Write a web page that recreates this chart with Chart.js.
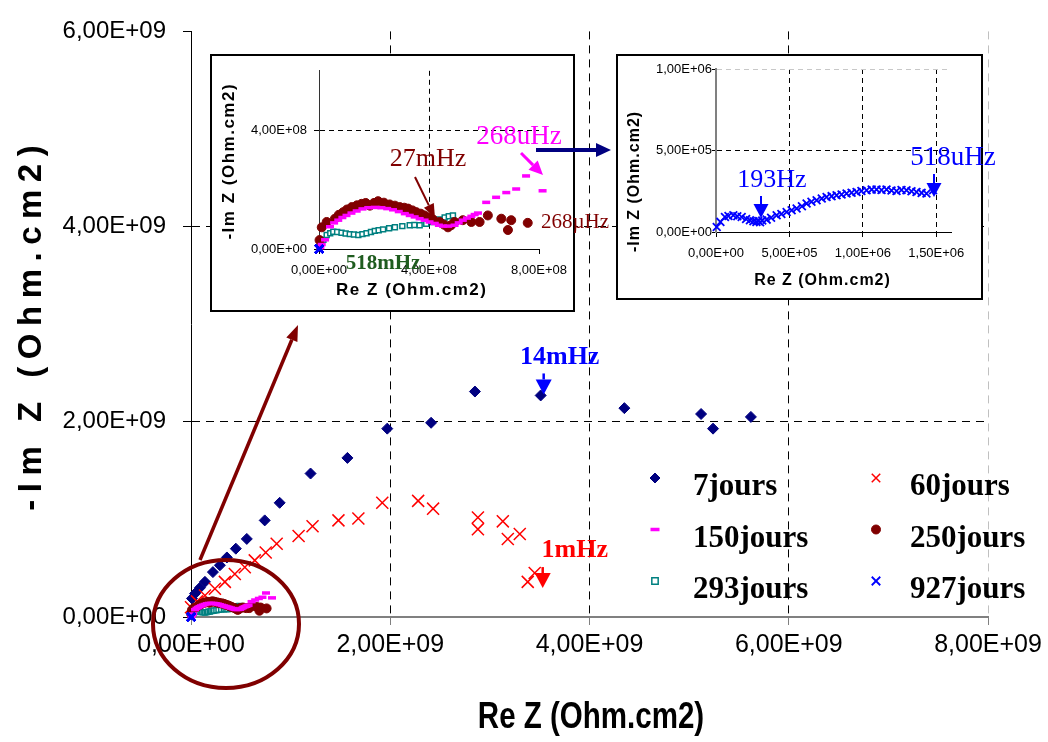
<!DOCTYPE html>
<html>
<head>
<meta charset="utf-8">
<script src="https://cdn.jsdelivr.net/npm/chart.js@4.4.0/dist/chart.umd.min.js"></script>
<style>
  body { margin: 0; background: #fff; }
  #wrap { position: relative; width: 1048px; height: 742px; overflow: hidden; }
  #main { position: absolute; left: 0; top: 0; }
  .box { position: absolute; border: 2px solid #000; background: #fff; box-sizing: border-box; }
  .box canvas { display: block; position: absolute; left: 0; top: 0; }
  #box1 { left: 210px; top: 54px; width: 365px; height: 258px; }
  #box2 { left: 616px; top: 54px; width: 367px; height: 246px; }
</style>
</head>
<body>
<div id="wrap">
  <canvas id="main" width="1048" height="742"></canvas>
  <div class="box" id="box1"><canvas id="ins1" width="400" height="254"></canvas></div>
  <div class="box" id="box2"><canvas id="ins2" width="420" height="242"></canvas></div>
</div>
<script>
// ---- data ----
// 7 jours and 60 jours, unit 1e9 Ohm.cm2
const re7  = [0.01, 0.04, 0.09, 0.14, 0.22, 0.29, 0.36, 0.45, 0.56, 0.74, 0.89, 1.20, 1.57, 1.97, 2.41, 2.85, 3.51, 4.35, 5.12, 5.24, 5.62];
const im7  = [0.19, 0.24, 0.30, 0.36, 0.46, 0.53, 0.61, 0.70, 0.80, 0.99, 1.17, 1.47, 1.63, 1.93, 1.99, 2.31, 2.27, 2.14, 2.08, 1.93, 2.05];
const re60 = [0.00, 0.06, 0.14, 0.24, 0.34, 0.44, 0.54, 0.64, 0.75, 0.86, 1.08, 1.22, 1.48, 1.68, 1.92, 2.28, 2.43, 2.88, 2.88, 3.13, 3.18, 3.30, 3.38, 3.45];
const im60 = [0.10, 0.16, 0.22, 0.29, 0.36, 0.44, 0.51, 0.58, 0.66, 0.75, 0.83, 0.93, 0.99, 1.01, 1.17, 1.19, 1.11, 1.02, 0.90, 0.98, 0.80, 0.85, 0.36, 0.45];
// 150, 250 and 293 jours, unit 1e8 Ohm.cm2
const re150 = [0.05, 0.10, 0.22, 0.40, 0.55, 0.70, 0.85, 1.00, 1.18, 1.37, 1.58, 1.79, 2.03, 2.27, 2.48, 2.69, 2.90, 3.12, 3.30, 3.48, 3.66, 3.84, 4.02, 4.21, 4.36, 4.51, 4.70, 4.93, 5.08, 5.23, 5.38, 5.54, 5.66, 5.78, 6.08, 6.44, 6.81, 7.17, 7.53, 8.13];
const im150 = [0.05, 0.15, 0.31, 0.75, 0.88, 0.97, 1.06, 1.13, 1.21, 1.28, 1.35, 1.39, 1.40, 1.39, 1.36, 1.32, 1.26, 1.19, 1.13, 1.08, 1.02, 0.97, 0.91, 0.86, 0.80, 0.77, 0.77, 0.80, 0.88, 0.97, 1.04, 1.10, 1.16, 1.21, 1.57, 1.74, 1.90, 2.02, 2.46, 1.96];
const re250 = [0.02, 0.10, 0.28, 0.58, 0.72, 0.88, 1.02, 1.19, 1.38, 1.55, 1.70, 1.85, 2.00, 2.15, 2.36, 2.57, 2.76, 2.94, 3.10, 3.24, 3.40, 3.54, 3.70, 3.84, 4.00, 4.15, 4.39, 4.55, 4.69, 4.80, 4.93, 5.23, 5.54, 5.84, 6.14, 6.63, 6.99, 6.87, 7.59];
const im250 = [0.30, 0.73, 0.91, 1.02, 1.15, 1.24, 1.33, 1.41, 1.47, 1.52, 1.55, 1.46, 1.55, 1.61, 1.56, 1.50, 1.46, 1.41, 1.39, 1.36, 1.30, 1.24, 1.19, 1.13, 1.06, 0.99, 0.91, 0.82, 0.73, 0.80, 0.91, 0.97, 0.91, 0.91, 1.13, 1.02, 0.97, 0.64, 0.88];
const re293 = [0.01, 0.04, 0.16, 0.28, 0.41, 0.52, 0.66, 0.82, 0.97, 1.12, 1.27, 1.43, 1.58, 1.73, 1.89, 2.03, 2.17, 2.33, 2.55, 2.76, 3.03, 3.30, 3.47, 3.66, 3.90, 4.15, 4.36, 4.57, 4.72, 4.87];
const im293 = [0.05, 0.20, 0.31, 0.47, 0.53, 0.58, 0.57, 0.55, 0.52, 0.50, 0.49, 0.47, 0.50, 0.53, 0.57, 0.61, 0.63, 0.66, 0.70, 0.73, 0.77, 0.80, 0.81, 0.80, 0.85, 0.91, 0.99, 1.06, 1.10, 1.13];
// 927 jours, unit 1e5 Ohm.cm2
const re927 = [0.05, 0.30, 0.61, 0.85, 1.18, 1.45, 1.75, 2.05, 2.31, 2.55, 2.75, 2.88, 3.00, 3.15, 3.45, 3.75, 4.13, 4.45, 4.81, 5.15, 5.49, 5.85, 6.17, 6.50, 6.85, 7.20, 7.53, 7.87, 8.21, 8.55, 8.89, 9.23, 9.57, 9.90, 10.25, 10.60, 10.93, 11.27, 11.61, 11.95, 12.29, 12.63, 12.97, 13.31, 13.65, 14.00, 14.33, 14.78];
const im927 = [0.31, 0.62, 0.92, 0.98, 1.03, 0.97, 0.92, 0.80, 0.72, 0.66, 0.62, 0.68, 0.60, 0.70, 0.76, 0.88, 1.03, 1.10, 1.23, 1.33, 1.44, 1.58, 1.75, 1.85, 1.95, 2.05, 2.15, 2.20, 2.26, 2.30, 2.36, 2.41, 2.46, 2.52, 2.56, 2.60, 2.61, 2.58, 2.61, 2.55, 2.52, 2.58, 2.56, 2.50, 2.46, 2.40, 2.36, 2.56];

const seriesNames = ['7jours', '60jours', '150jours', '250jours', '293jours', '927jours'];

const mainXTicks = [0, 2e9, 4e9, 6e9, 8e9];
const mainYTicks = [0, 2e9, 4e9, 6e9];
const ins1XTicks = [0, 4e8, 8e8];
const ins1YTicks = [0, 4e8];
const ins2XTicks = [0, 5e5, 1e6, 1.5e6];
const ins2YTicks = [0, 5e5, 1e6];

// ---- look ----
const SANS = '"Liberation Sans", Arial, sans-serif';
const SERIF = '"Liberation Serif", "Times New Roman", serif';

const marks = [
  { pointStyle: 'rectRot',  radius: 5.5, fill: '#000080', line: '#000080', width: 1,   legendRadius: 5 },
  { pointStyle: 'crossRot', radius: 8.5, fill: '#FF0000', line: '#FF0000', width: 1.5, legendRadius: 6 },
  { pointStyle: 'line',     radius: 4,   fill: '#FF00FF', line: '#FF00FF', width: 3.5, legendRadius: 4.5 },
  { pointStyle: 'circle',   radius: 4.5, fill: '#800000', line: '#800000', width: 1,   legendRadius: 4.5 },
  { pointStyle: 'rect',     radius: 3.5, fill: '#FFFFFF', line: '#008080', width: 1.5, legendRadius: 4.5 },
  { pointStyle: 'crossRot', radius: 5.5, fill: '#0000FF', line: '#0000FF', width: 1.8, legendRadius: 6 },
];
const drawOrder = [5, 4, 1, 2, 3, 0];

let pts = function (re, im, k) {
  return re.map((r, i) => ({ x: r * k, y: im[i] * k }));
};
let allSeries = [
  pts(re7, im7, 1e9), pts(re60, im60, 1e9),
  pts(re150, im150, 1e8), pts(re250, im250, 1e8), pts(re293, im293, 1e8),
  pts(re927, im927, 1e5)
];

let sci = function (v) {
  return Number(v).toExponential(2).replace('.', ',')
    .replace(/e([+-])(\d+)$/, (m, s, d) => 'E' + s + (d.length < 2 ? '0' + d : d));
};

let makeDataset = function (i) {
  const m = marks[i];
  return {
    label: seriesNames[i],
    data: allSeries[i],
    showLine: false,
    clip: false,
    order: drawOrder[i],
    pointStyle: m.pointStyle,
    pointRadius: m.radius,
    pointBackgroundColor: m.fill,
    pointBorderColor: m.line,
    pointBorderWidth: m.width,
    backgroundColor: m.fill,
    borderColor: m.line
  };
};

let fixTicks = function (arr) {
  return function (scale) { scale.ticks = arr.map(v => ({ value: v })); };
};

let spacedText = function (ctx, text, x, y, font, spacing, color, rot, squeeze) {
  ctx.save();
  ctx.translate(x, y);
  if (rot) ctx.rotate(rot);
  if (squeeze) ctx.scale(squeeze, 1);
  ctx.font = font;
  ctx.letterSpacing = spacing + 'px';
  ctx.textAlign = 'center';
  ctx.textBaseline = 'middle';
  ctx.fillStyle = color;
  ctx.fillText(text, spacing / 2, 0);
  ctx.restore();
};

let label = function (ctx, text, x, y, font, color, align) {
  ctx.save();
  ctx.font = font;
  ctx.textAlign = align || 'center';
  ctx.textBaseline = 'middle';
  ctx.fillStyle = color;
  ctx.fillText(text, x, y);
  ctx.restore();
};

let arrow = function (ctx, x1, y1, x2, y2, color, width, headLen, headW) {
  const a = Math.atan2(y2 - y1, x2 - x1);
  const bx = x2 - headLen * Math.cos(a), by = y2 - headLen * Math.sin(a);
  ctx.save();
  ctx.setLineDash([]);
  ctx.strokeStyle = color;
  ctx.fillStyle = color;
  ctx.lineWidth = width;
  ctx.beginPath(); ctx.moveTo(x1, y1); ctx.lineTo(bx, by); ctx.stroke();
  ctx.beginPath();
  ctx.moveTo(x2, y2);
  ctx.lineTo(bx + headW / 2 * Math.sin(a), by - headW / 2 * Math.cos(a));
  ctx.lineTo(bx - headW / 2 * Math.sin(a), by + headW / 2 * Math.cos(a));
  ctx.closePath(); ctx.fill();
  ctx.restore();
};

let pageDecor = function (id, offX, offY, draw) {
  return {
    id: id,
    afterDraw(chart) {
      const ctx = chart.ctx;
      ctx.save();
      ctx.translate(-offX, -offY);
      draw(chart, ctx);
      ctx.restore();
    }
  };
};

let baseOptions = function () {
  return {
    responsive: false,
    devicePixelRatio: 1,
    animation: false,
    events: [],
    plugins: { legend: { display: false }, tooltip: { enabled: false } }
  };
};

// ---- main chart ----
const mainDecor = pageDecor('mainDecor', 0, 0, function (chart, ctx) {
  const xs = chart.scales.x, ys = chart.scales.y;
  const ox = xs.getPixelForValue(0), oy = ys.getPixelForValue(0);

  // ellipse round the origin and arrow to the inset
  ctx.save();
  ctx.strokeStyle = '#800000';
  ctx.lineWidth = 4;
  ctx.beginPath();
  ctx.ellipse(ox + 35, oy + 7, 73, 64, 0, 0, Math.PI * 2);
  ctx.stroke();
  ctx.restore();
  arrow(ctx, ox + 9, oy - 57, ox + 107, oy - 292, '#800000', 3.5, 16, 12);

  // frequency marks
  let p = { x: xs.getPixelForValue(re7[16] * 1e9), y: ys.getPixelForValue(im7[16] * 1e9) };
  label(ctx, '14mHz', p.x + 19, p.y - 38, 'bold 26px ' + SERIF, '#0000FF');
  arrow(ctx, p.x + 3, p.y - 22, p.x + 3, p.y - 1, '#0000FF', 2.5, 15, 16);
  let q = { x: xs.getPixelForValue(re60[23] * 1e9), y: ys.getPixelForValue(im60[23] * 1e9) };
  label(ctx, '1mHz', q.x + 40, q.y - 23, 'bold 26px ' + SERIF, '#FF0000');
  arrow(ctx, q.x + 8, q.y - 6, q.x + 8, q.y + 15, '#FF0000', 2.5, 15, 16);

  // legend, two columns
  seriesNames.forEach((name, i) => {
    const col = i % 2, row = Math.floor(i / 2);
    const tx = 693 + col * 217, ty = 487 + row * 51.5;
    const m = marks[i];
    ctx.save();
    ctx.fillStyle = m.fill;
    ctx.strokeStyle = m.line;
    ctx.lineWidth = m.width;
    Chart.helpers.drawPoint(ctx, { pointStyle: m.pointStyle, radius: m.legendRadius, borderWidth: m.width, rotation: 0 },
      tx - 38 + col * 4, ty - 9);
    ctx.restore();
    label(ctx, name, tx, ty, 'bold 31px ' + SERIF, '#000', 'left');
  });

  // axis titles
  spacedText(ctx, '-Im Z (Ohm.cm2)', 32, 328, 'bold 33px ' + SANS, 7.5, '#000', -Math.PI / 2);
  spacedText(ctx, 'Re Z (Ohm.cm2)', 591, 718, 'bold 36px ' + SANS, 0, '#000', 0, 0.82);
});

new Chart(document.getElementById('main').getContext('2d'), {
  type: 'scatter',
  data: { datasets: seriesNames.map((n, i) => makeDataset(i)) },
  options: Object.assign(baseOptions(), {
    layout: { padding: { top: 24, right: 60, left: 0, bottom: 0 } },
    scales: {
      x: {
        type: 'linear', min: 0, max: 8e9,
        afterBuildTicks: fixTicks(mainXTicks),
        afterFit: s => { s.height = 125; },
        ticks: { callback: sci, font: { family: SANS, size: 25 }, color: '#000', padding: 5, maxRotation: 0, autoSkip: false },
        grid: {
          color: c => c.tick.value === 8e9 ? '#c0c0c0' : (c.tick.value === 0 ? 'rgba(0,0,0,0)' : '#000'),
          tickColor: '#808080', tickLength: 8, lineWidth: 1
        },
        border: { color: '#808080', width: 2, dash: [8, 6] }
      },
      y: {
        type: 'linear', min: 0, max: 6e9,
        afterBuildTicks: fixTicks(mainYTicks),
        afterFit: s => { s.width = 191; },
        ticks: { callback: sci, font: { family: SANS, size: 24 }, color: '#000', padding: 17 },
        grid: {
          color: c => (c.tick.value === 0 || c.tick.value === 6e9) ? 'rgba(0,0,0,0)' : '#000',
          tickColor: '#000', tickLength: 8, lineWidth: 1
        },
        border: { color: '#000', width: 1, dash: [8, 6] }
      }
    }
  }),
  plugins: [mainDecor]
});

// ---- inset 1 : 150, 250, 293 and 927 jours ----
const ins1Decor = pageDecor('ins1Decor', 212, 56, function (chart, ctx) {
  label(ctx, '27mHz', 428, 159, '26px ' + SERIF, '#800000');
  arrow(ctx, 415, 177, 435, 218, '#800000', 2, 14, 11);
  label(ctx, '268uHz', 519, 137, '27px ' + SERIF, '#FF00FF');
  arrow(ctx, 521, 153, 543, 175, '#FF00FF', 3, 14, 13);
  label(ctx, '518mHz', 383, 264, 'bold 21px ' + SERIF, '#1F5C1F');
  label(ctx, '268\u00b5Hz', 541, 222, '21px ' + SERIF, '#800000', 'left');
  arrow(ctx, 536, 150, 611, 150, '#000080', 4, 15, 14);
  spacedText(ctx, 'Re Z (Ohm.cm2)', 411, 290, 'bold 17px ' + SANS, 1.5, '#000');
  spacedText(ctx, '-Im Z (Ohm.cm2)', 229, 162, 'bold 17px ' + SANS, 1.5, '#000', -Math.PI / 2);
});

new Chart(document.getElementById('ins1').getContext('2d'), {
  type: 'scatter',
  data: { datasets: [2, 3, 4, 5].map(i => makeDataset(i)) },
  options: Object.assign(baseOptions(), {
    layout: { padding: { top: 13, right: 73, left: 0, bottom: 0 } },
    scales: {
      x: {
        type: 'linear', min: 0, max: 8e8,
        afterBuildTicks: fixTicks(ins1XTicks),
        afterFit: s => { s.height = 61; },
        ticks: { callback: sci, font: { family: SANS, size: 13 }, color: '#000', padding: 9, maxRotation: 0, autoSkip: false },
        grid: { color: c => c.tick.value === 4e8 ? '#000' : 'rgba(0,0,0,0)', tickColor: '#000', tickLength: 5 },
        border: { color: '#000', width: 1, dash: [5, 4] }
      },
      y: {
        type: 'linear', min: 0, max: 6e8,
        afterBuildTicks: fixTicks(ins1YTicks),
        afterFit: s => { s.width = 107; },
        ticks: { callback: sci, font: { family: SANS, size: 13 }, color: '#000', padding: 7 },
        grid: { color: c => c.tick.value === 4e8 ? '#000' : 'rgba(0,0,0,0)', tickColor: '#000', tickLength: 5 },
        border: { color: '#333', width: 1, dash: [5, 4] }
      }
    }
  }),
  plugins: [ins1Decor]
});

// ---- inset 2 : 927 jours ----
const ins2Decor = pageDecor('ins2Decor', 618, 56, function (chart, ctx) {
  label(ctx, '193Hz', 772, 180, '26px ' + SERIF, '#0000FF');
  arrow(ctx, 761, 196, 761, 218, '#0000FF', 2, 14, 15);
  label(ctx, '518uHz', 953, 158, '27px ' + SERIF, '#0000FF');
  arrow(ctx, 934, 174, 934, 197, '#0000FF', 2, 14, 15);
  spacedText(ctx, 'Re Z (Ohm.cm2)', 822, 281, 'bold 16px ' + SANS, 1, '#000');
  spacedText(ctx, '-Im Z (Ohm.cm2)', 635, 182, 'bold 16px ' + SANS, 1, '#000', -Math.PI / 2);
});

new Chart(document.getElementById('ins2').getContext('2d'), {
  type: 'scatter',
  data: { datasets: [makeDataset(5)] },
  options: Object.assign(baseOptions(), {
    layout: { padding: { top: 13, right: 87, left: 0, bottom: 0 } },
    scales: {
      x: {
        type: 'linear', min: 0, max: 1.6e6,
        afterBuildTicks: fixTicks(ins2XTicks),
        afterFit: s => { s.height = 66; },
        ticks: { callback: sci, font: { family: SANS, size: 13 }, color: '#000', padding: 9, maxRotation: 0, autoSkip: false },
        grid: { color: c => c.tick.value === 0 ? 'rgba(0,0,0,0)' : '#000', tickColor: '#000', tickLength: 5 },
        border: { color: '#000', width: 1, dash: [5, 4] }
      },
      y: {
        type: 'linear', min: 0, max: 1e6,
        afterBuildTicks: fixTicks(ins2YTicks),
        afterFit: s => { s.width = 98; },
        ticks: { callback: sci, font: { family: SANS, size: 13 }, color: '#000', padding: 0 },
        grid: {
          color: c => c.tick.value === 5e5 ? '#000' : (c.tick.value === 1e6 ? '#c8c8c8' : 'rgba(0,0,0,0)'),
          tickColor: '#000', tickLength: 4
        },
        border: { color: '#808080', width: 2, dash: [5, 4] }
      }
    }
  }),
  plugins: [ins2Decor]
});
</script>
</body>
</html>
